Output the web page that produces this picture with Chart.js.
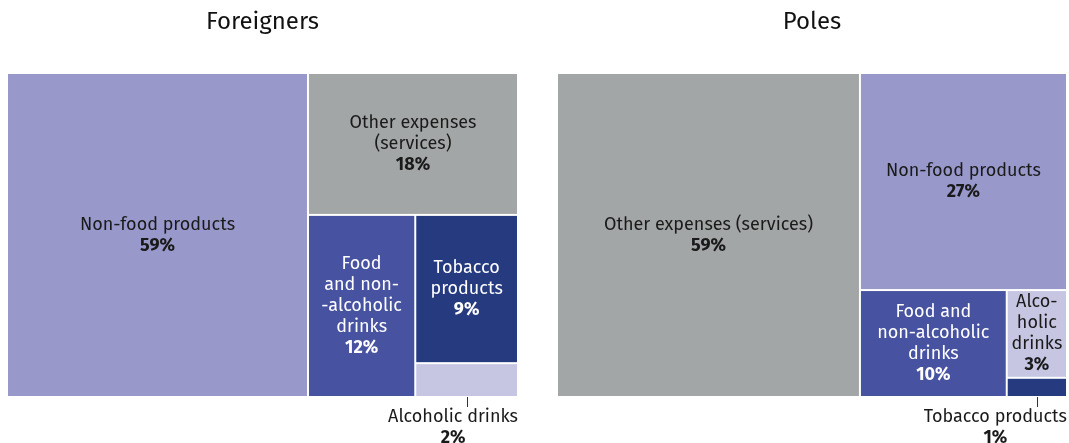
<!DOCTYPE html>
<html>
<head>
<meta charset="utf-8">
<script src="https://cdn.jsdelivr.net/npm/chart.js"></script>
<style>
  body { margin: 0; background: #fff; }
  #wrap { display: flex; width: 1069px; height: 443px; }
</style>
</head>
<body>
<div id="wrap">
  <canvas id="foreignersChart" width="536" height="443"></canvas>
  <canvas id="polesChart" width="533" height="443"></canvas>
</div>

<script>
  // shares of spending, in percent
  const categories = ['Non-food products', 'Other expenses (services)', 'Food and non-alcoholic drinks', 'Tobacco products', 'Alcoholic drinks'];
  const foreignersValues = [58.9, 18.0, 11.8, 9.2, 2.1];
  const polesValues = [27.2, 59.4, 9.5, 0.7, 3.2];

  // how each label is broken into lines in the cells
  const foreignersLines = [
      ['Non-food products'],
      ['Other expenses', '(services)'],
      ['Food', 'and non-', '-alcoholic', 'drinks'],
      ['Tobacco', 'products'],
      ['Alcoholic drinks'],
  ];
  const polesLines = [
      ['Non-food products'],
      ['Other expenses (services)'],
      ['Food and', 'non-alcoholic', 'drinks'],
      ['Tobacco products'],
      ['Alco-', 'holic', 'drinks'],
  ];

  const cellColors = ['#9898cb', '#a3a6a6', '#4752a0', '#263b7f', '#c6c6e3'];
  const textColors = ['#1a1a1a', '#1a1a1a', '#ffffff', '#ffffff', '#1a1a1a'];

  const FONT = "'Fira Sans', 'Noto Sans', sans-serif";
  const LINE = 21;
  const SIZE = 18;

  function worst(row, side) {
      var s = 0, max = 0, min = Infinity;
      row.forEach(function (a) { s += a; max = Math.max(max, a); min = Math.min(min, a); });
      return Math.max(side * side * max / (s * s), (s * s) / (side * side * min));
  }

  // squarified layout, in pixel-proportional units
  function squarify(areas, x, y, w, h) {
      var out = [];
      var i = 0;
      while (i < areas.length) {
          var side = Math.min(w, h);
          var row = [areas[i]];
          var j = i + 1;
          while (j < areas.length && worst(row.concat(areas[j]), side) <= worst(row, side)) {
              row.push(areas[j]);
              j++;
          }
          var s = row.reduce(function (a, b) { return a + b; }, 0);
          if (w >= h) {
              var cw = s / h, cy = y;
              row.forEach(function (a) { var rh = a / cw; out.push({x: x, y: cy, w: cw, h: rh}); cy += rh; });
              x += cw; w -= cw;
          } else {
              var rh = s / w, cx = x;
              row.forEach(function (a) { var rw = a / rh; out.push({x: cx, y: y, w: rw, h: rh}); cx += rw; });
              y += rh; h -= rh;
          }
          i = j;
      }
      return out;
  }

  const treemapPlugin = {
      id: 'treemap',
      afterDraw: function (chart, args, opts) {
          var ctx = chart.ctx;
          var area = chart.chartArea;
          var W = area.right - area.left, H = area.bottom - area.top;
          var values = opts.values;
          var total = values.reduce(function (a, b) { return a + b; }, 0);

          // biggest first, like the original
          var order = values.map(function (v, i) { return i; }).sort(function (a, b) { return values[b] - values[a]; });
          var areas = order.map(function (i) { return values[i] / total * W * H; });
          var rects = squarify(areas, 0, 0, W, H);

          var xs = chart.scales.x, ys = chart.scales.y;
          ctx.save();
          order.forEach(function (idx, k) {
              var r = rects[k];
              var x0 = xs.getPixelForValue(r.x / W), x1 = xs.getPixelForValue((r.x + r.w) / W);
              var y0 = ys.getPixelForValue(r.y / H), y1 = ys.getPixelForValue((r.y + r.h) / H);
              ctx.fillStyle = cellColors[idx];
              ctx.fillRect(x0 + 1, y0 + 1, x1 - x0 - 2, y1 - y0 - 2);

              var lines = opts.lines[idx];
              var pct = Math.round(values[idx]) + '%';
              var blockH = (lines.length + 1) * LINE;
              var cx = (x0 + x1) / 2;
              ctx.textAlign = 'center';
              ctx.textBaseline = 'middle';
              if (blockH <= y1 - y0) {
                  var ty = (y0 + y1) / 2 - blockH / 2 + LINE / 2;
                  ctx.fillStyle = textColors[idx];
                  ctx.font = SIZE + 'px ' + FONT;
                  lines.forEach(function (l, n) { ctx.fillText(l, cx, ty + n * LINE); });
                  ctx.font = 'bold ' + SIZE + 'px ' + FONT;
                  ctx.fillText(pct, cx, ty + lines.length * LINE);
              } else {
                  // label below the cell with a short leader line
                  ctx.strokeStyle = '#333';
                  ctx.lineWidth = 1;
                  ctx.beginPath();
                  ctx.moveTo(Math.round(cx) + 0.5, y1);
                  ctx.lineTo(Math.round(cx) + 0.5, y1 + 10);
                  ctx.stroke();
                  ctx.font = SIZE + 'px ' + FONT;
                  var tw = ctx.measureText(lines[0]).width;
                  var lx = Math.min(cx, area.right - tw / 2);
                  ctx.fillStyle = '#1a1a1a';
                  ctx.fillText(lines[0], lx, y1 + 20);
                  ctx.font = 'bold ' + SIZE + 'px ' + FONT;
                  ctx.fillText(pct, lx, y1 + 41);
              }
          });
          ctx.restore();
      }
  };

  function makeChart(id, title, values, lines, padLeft, padRight) {
      return new Chart(document.getElementById(id), {
          type: 'scatter',
          plugins: [treemapPlugin],
          data: { datasets: [{ data: [] }] },
          options: {
              responsive: false,
              animation: false,
              layout: { padding: { left: padLeft, right: padRight, top: 0, bottom: 46 } },
              scales: {
                  x: { type: 'linear', min: 0, max: 1, display: false },
                  y: { type: 'linear', min: 0, max: 1, reverse: true, display: false },
              },
              plugins: {
                  legend: { display: false },
                  tooltip: { enabled: false },
                  title: {
                      display: true,
                      text: title,
                      color: '#111',
                      font: { family: FONT, size: 24, weight: 'normal' },
                      padding: { top: 8, bottom: 36.2 },
                  },
                  treemap: { values: values, lines: lines },
              },
          }
      });
  }

  makeChart('foreignersChart', 'Foreigners', foreignersValues, foreignersLines, 7, 18);
  makeChart('polesChart', 'Poles', polesValues, polesLines, 21, 2);
</script>
</body>
</html>
